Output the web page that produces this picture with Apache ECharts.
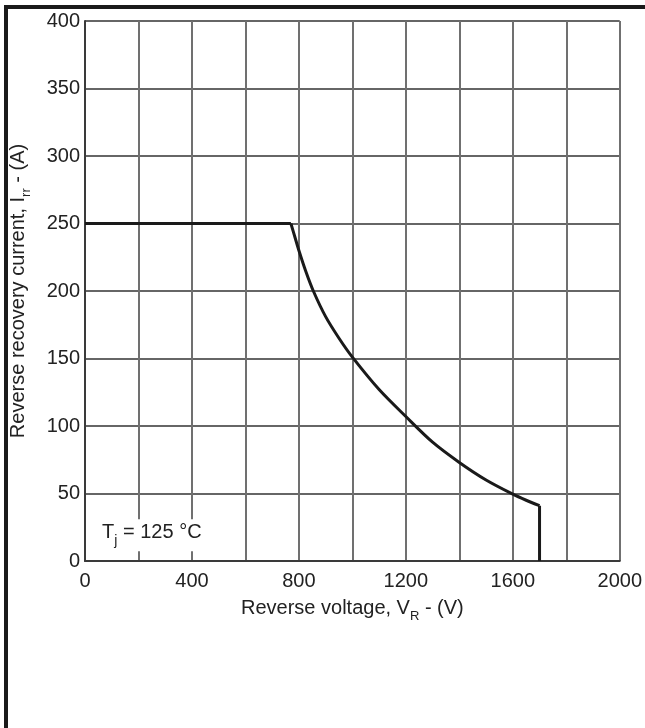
<!DOCTYPE html>
<html>
<head>
<meta charset="utf-8">
<script src="https://cdn.jsdelivr.net/npm/echarts@6/dist/echarts.min.js"></script>
<style>
  html, body { margin: 0; padding: 0; background: #fff; }
  #chart { width: 645px; height: 728px; }
</style>
</head>
<body>
<div id="chart"></div>
<script>
// reverse recovery current limit, Tj = 125 C
// flat part, then the falling curve, then the drop at the rated voltage
const flatVoltage = [0, 770];
const flatCurrent = [250, 250];
const curveVoltage = [770, 785, 800, 825, 854, 900, 950, 1000, 1100, 1200, 1300, 1400, 1500, 1600, 1650, 1700];
const curveCurrent = [250, 240, 230, 215, 200, 181, 165, 151, 127, 107, 88, 73, 60, 49.5, 45, 41];
const dropVoltage = [1700, 1700];
const dropCurrent = [41, 0];
const xLabelStep = 400;
const noteText = '{n|T}{s|j}{n| = 125 °C}';
const notePos = [250, 19];

const font = 'Liberation Sans, Arial, Helvetica, sans-serif';
const ink = '#222';
const curveColor = '#1a1a1a';

const chart = echarts.init(document.getElementById('chart'));

const subRich = {
  n: { fontSize: 20, fontFamily: font, color: ink, verticalAlign: 'bottom', padding: [0, 0, 5, 0] },
  s: { fontSize: 13, fontFamily: font, color: ink, verticalAlign: 'bottom' }
};

function pairs(xs, ys) {
  return xs.map(function (v, i) { return [v, ys[i]]; });
}

function lineSeries(xs, ys, smooth) {
  return {
    type: 'line',
    data: pairs(xs, ys),
    showSymbol: false,
    smooth: smooth,
    lineStyle: { color: curveColor, width: 3 },
    silent: true
  };
}

const curve = lineSeries(curveVoltage, curveCurrent, 0.3);
curve.markPoint = {
  silent: true,
  symbolSize: 0,
  data: [{ coord: notePos }],
  label: {
    show: true,
    position: 'inside',
    formatter: noteText,
    backgroundColor: '#fff',
    padding: [3, 4, 3, 4],
    rich: {
      n: { fontSize: 20, fontFamily: font, color: ink, verticalAlign: 'bottom', padding: [0, 0, 6, 0] },
      s: { fontSize: 14, fontFamily: font, color: ink, verticalAlign: 'bottom' }
    }
  }
};

const option = {
  animation: false,
  grid: { left: 82, top: 21, right: 23, bottom: 167 },
  xAxis: {
    type: 'value',
    min: 0,
    max: 2000,
    interval: 200,
    name: '{n|Reverse voltage, V}{s|R}{n| - (V)}',
    nameLocation: 'middle',
    nameGap: 37,
    nameTextStyle: { rich: subRich },
    axisLine: { lineStyle: { color: '#3a3a3a', width: 2 } },
    axisTick: { show: false },
    axisLabel: {
      margin: 10,
      fontSize: 20,
      fontFamily: font,
      color: ink,
      formatter: function (v) { return v % xLabelStep === 0 ? String(v) : ''; }
    },
    splitLine: { lineStyle: { color: '#707070', width: 2 } }
  },
  yAxis: {
    type: 'value',
    min: 0,
    max: 400,
    interval: 50,
    name: '{n|Reverse recovery current, I}{s|rr}{n| - (A)}',
    nameLocation: 'middle',
    nameGap: 52,
    nameRotate: 90,
    nameTextStyle: { rich: subRich },
    axisLine: { show: true, lineStyle: { color: '#3a3a3a', width: 2 } },
    axisTick: { show: false },
    axisLabel: { margin: 5, fontSize: 20, fontFamily: font, color: ink },
    splitLine: { lineStyle: { color: '#333', width: 1.5 } }
  },
  graphic: [
    { type: 'rect', shape: { x: 4, y: 5, width: 4, height: 723 }, style: { fill: '#1a1a1a' } },
    { type: 'rect', shape: { x: 4, y: 5, width: 641, height: 4 }, style: { fill: '#1a1a1a' } }
  ],
  series: [
    lineSeries(flatVoltage, flatCurrent, false),
    curve,
    lineSeries(dropVoltage, dropCurrent, false)
  ]
};

chart.setOption(option);
</script>
</body>
</html>
